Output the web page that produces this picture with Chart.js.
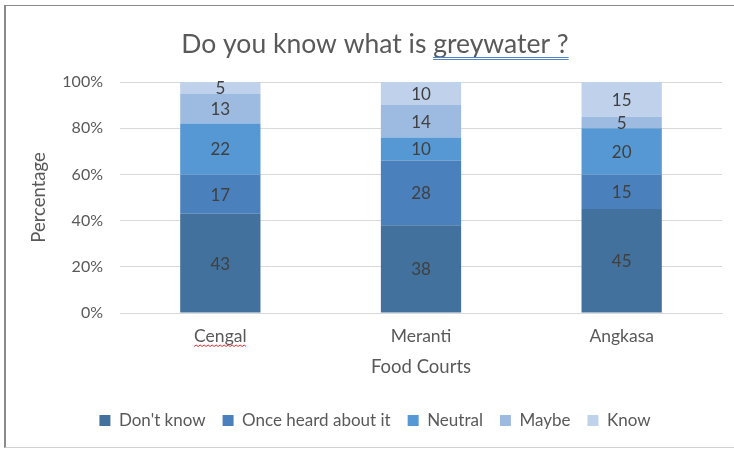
<!DOCTYPE html>
<html>
<head>
<meta charset="utf-8">
<script src="https://cdn.jsdelivr.net/npm/chart.js@4"></script>
<style>
  html, body { margin: 0; padding: 0; background: #fff; }
  #wrap { position: relative; width: 734px; height: 450px; overflow: hidden; }
  #frame {
    position: absolute; left: 4px; top: 5px; width: 760px; height: 443px;
    border-left: 2px solid #8a8a8a; border-top: 1px solid #8a8a8a;
    border-bottom: 1px solid #d0d0d0; box-sizing: border-box;
  }
  canvas { position: absolute; left: 0; top: 0; }
</style>
</head>
<body>
<div id="wrap">
  <div id="frame"></div>
  <canvas id="chart" width="734" height="450"></canvas>
</div>
<script>
// 데이터
const categories = ['Cengal', 'Meranti', 'Angkasa'];
const dontKnow = [43, 38, 45];
const onceHeard = [17, 28, 15];
const neutral = [22, 10, 20];
const maybe = [13, 14, 5];
const know = [5, 10, 15];
const yTicks = [0, 20, 40, 60, 80, 100];

const FONT = 'Lato, "Open Sans", sans-serif';
const GREY = '#595959';

// 막대 안 숫자 라벨
const barLabels = {
  id: 'barLabels',
  afterDatasetsDraw(chart) {
    const ctx = chart.ctx;
    ctx.save();
    ctx.font = '17px ' + FONT;
    ctx.fillStyle = '#404040';
    ctx.textAlign = 'center';
    ctx.textBaseline = 'middle';
    chart.data.datasets.forEach((ds, i) => {
      chart.getDatasetMeta(i).data.forEach((bar, j) => {
        const p = bar.getProps(['x', 'y', 'base'], true);
        ctx.fillText(String(ds.data[j]), p.x, (p.y + p.base) / 2 + 1);
      });
    });
    ctx.restore();
  }
};

// 제목 (밑줄 포함) 과 Cengal 물결선
const titleDraw = {
  id: 'titleDraw',
  afterDraw(chart) {
    const ctx = chart.ctx;
    ctx.save();
    ctx.font = '26.5px ' + FONT;
    ctx.fillStyle = GREY;
    ctx.textBaseline = 'alphabetic';
    const a = 'Do you know what is ';
    const b = 'greywater ?';
    const wa = ctx.measureText(a).width;
    const wb = ctx.measureText(b).width;
    const x0 = 375 - (wa + wb) / 2;
    ctx.fillText(a + b, x0, 53);
    ctx.strokeStyle = '#4f84c8';
    ctx.lineWidth = 1;
    ctx.beginPath();
    ctx.moveTo(x0 + wa, 57.5); ctx.lineTo(x0 + wa + wb, 57.5);
    ctx.moveTo(x0 + wa, 59.5); ctx.lineTo(x0 + wa + wb, 59.5);
    ctx.stroke();

    // Cengal 맞춤법 물결선
    const xs = chart.scales.x;
    const cx = xs.getPixelForTick(0);
    ctx.font = '17.5px ' + FONT;
    const w = ctx.measureText(categories[0]).width;
    ctx.strokeStyle = '#e03030';
    ctx.beginPath();
    let first = true;
    for (let x = cx - w / 2; x <= cx + w / 2; x += 2) {
      const y = 345 + ((Math.round(x) % 4) < 2 ? 0 : 1.5);
      if (first) { ctx.moveTo(x, y); first = false; } else ctx.lineTo(x, y);
    }
    ctx.stroke();
    ctx.restore();
  }
};

new Chart(document.getElementById('chart'), {
  type: 'bar',
  data: {
    labels: categories,
    datasets: [
      { label: "Don't know", data: dontKnow, backgroundColor: '#41719c' },
      { label: 'Once heard about it', data: onceHeard, backgroundColor: '#4a80bb' },
      { label: 'Neutral', data: neutral, backgroundColor: '#5598d4' },
      { label: 'Maybe', data: maybe, backgroundColor: '#9dbbe0' },
      { label: 'Know', data: know, backgroundColor: '#bfd1eb' }
    ]
  },
  options: {
    responsive: false,
    animation: false,
    devicePixelRatio: 1,
    categoryPercentage: 0.8,
    barPercentage: 0.5,
    layout: { padding: { top: 82, left: 28, right: 12, bottom: 11 } },
    plugins: {
      title: { display: false },
      tooltip: { enabled: false },
      legend: {
        position: 'bottom',
        labels: {
          font: { family: FONT, size: 17 },
          color: GREY,
          boxWidth: 11,
          boxHeight: 11,
          padding: 17
        }
      }
    },
    scales: {
      x: {
        stacked: true,
        afterFit(scale) { scale.height = 82; },
        grid: { display: false, drawTicks: false },
        border: { color: '#d9d9d9' },
        ticks: { font: { family: FONT, size: 17.5 }, color: GREY, padding: 13 },
        title: { display: true, text: 'Food Courts', font: { family: FONT, size: 18.5 }, color: GREY, padding: { top: 0, bottom: 17 } }
      },
      y: {
        stacked: true,
        min: 0,
        max: 100,
        afterBuildTicks(scale) { scale.ticks = yTicks.map(v => ({ value: v })); },
        afterFit(scale) { scale.width = 92; },
        grid: { color: '#d9d9d9', drawTicks: false },
        border: { display: false },
        ticks: {
          font: { family: FONT, size: 16 },
          color: GREY,
          padding: 17,
          callback: v => v + '%'
        },
        title: { display: true, text: 'Percentage', font: { family: FONT, size: 18.5 }, color: GREY, padding: 0 }
      }
    }
  },
  plugins: [barLabels, titleDraw]
});
</script>
</body>
</html>
